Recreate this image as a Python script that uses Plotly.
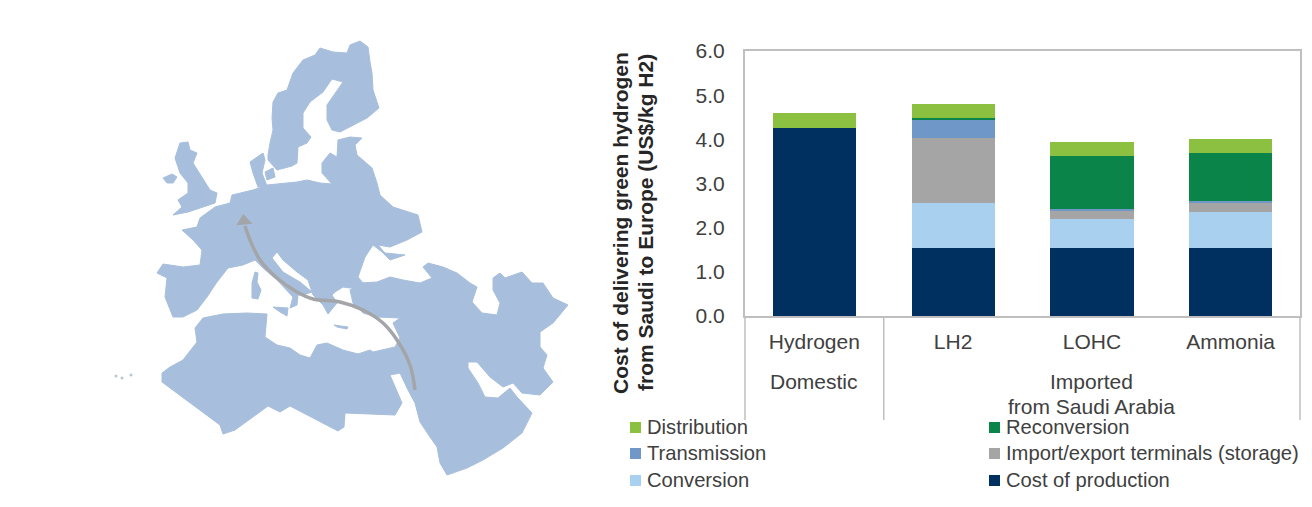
import plotly.graph_objects as go

# Stacked cost data (US$/kg H2)
categories = ["Hydrogen", "LH2", "LOHC", "Ammonia"]
cost_of_production = [4.25, 1.53, 1.53, 1.53]
conversion = [0.0, 1.02, 0.67, 0.83]
terminals = [0.0, 1.48, 0.17, 0.20]
transmission = [0.0, 0.42, 0.05, 0.05]
reconversion = [0.0, 0.03, 1.20, 1.07]
distribution = [0.35, 0.33, 0.33, 0.32]
y_ticks = [0, 1, 2, 3, 4, 5, 6]

# Map outlines in local map units (x right, y down)
scandinavia = [(268,155),(270,143),(273,130),(272,118),(273,102),(278,93),(287,90),(293,73),(303,60),(315,55),(320,48),(333,52),(347,53),(350,45),(360,41),(368,47),(370,62),(372,73),(373,90),(379,108),(367,118),(353,125),(340,132),(332,130),(327,120),(327,105),(335,93),(343,82),(332,79),(323,92),(310,102),(303,113),(303,128),(311,137),(307,143),(298,147),(297,163),(292,166),(277,170),(268,160)]
jutland = [(250,162),(263,153),(265,160),(262,173),(267,186),(258,187),(253,173)]
danish_islands = [(265,172),(273,168),(275,177),(267,180)]
britain = [(180,143),(188,142),(190,150),(197,153),(193,163),(202,177),(210,190),(217,193),(215,203),(203,207),(188,212),(173,215),(182,207),(178,200),(188,193),(188,183),(180,173),(175,158)]
ireland = [(163,178),(172,174),(177,177),(173,183),(167,183)]
europe = [(215,207),(230,203),(232,195),(253,190),(267,185),(280,184),(297,182),(307,180),(320,183),(332,184),(322,173),(322,163),(330,153),(337,157),(338,140),(350,137),(362,138),(355,145),(357,155),(372,168),(377,183),(380,195),(393,207),(418,215),(422,232),(407,240),(390,247),(378,245),(385,253),(405,255),(390,260),(382,252),(373,245),(365,257),(360,270),(358,277),(363,283),(355,287),(350,288),(343,287),(335,292),(332,295),(337,303),(328,314),(323,305),(313,295),(308,280),(297,272),(283,260),(277,252),(272,258),(283,272),(300,282),(312,292),(303,295),(298,295),(297,305),(290,308),(293,297),(277,280),(263,268),(255,260),(243,265),(228,268),(217,282),(207,297),(197,310),(183,317),(173,317),(168,305),(165,297),(167,278),(157,273),(163,264),(183,267),(200,265),(202,250),(193,240),(182,230),(197,227),(200,218)]
corsica_sardinia = [(255,272),(258,273),(257,282),(261,290),(258,299),(252,298),(252,283)]
sicily = [(273,307),(288,308),(287,316),(280,312)]
crete = [(334,325),(348,327),(347,329),(337,327)]
africa_middle_east = [(162,373),(170,367),(183,360),(197,342),(195,328),(203,318),(223,314),(247,313),(267,314),(265,337),(277,345),(290,348),(300,355),(310,358),(317,345),(327,343),(343,350),(358,354),(370,350),(373,352),(395,347),(400,338),(393,323),(400,318),(377,317),(363,313),(353,303),(350,290),(360,283),(377,282),(390,277),(403,280),(420,283),(432,278),(423,267),(428,263),(443,267),(457,273),(470,283),(477,287),(472,302),(482,313),(497,315),(500,303),(493,290),(493,278),(500,273),(505,278),(522,272),(532,283),(543,283),(553,298),(568,305),(562,312),(553,323),(540,332),(540,347),(547,355),(543,368),(553,382),(540,395),(522,393),(513,383),(503,387),(490,377),(477,362),(468,362),(468,368),(478,383),(485,397),(498,398),(510,388),(517,397),(532,413),(522,433),(503,448),(483,460),(467,468),(447,475),(440,463),(437,447),(430,437),(420,422),(415,403),(408,390),(400,373),(390,375),(402,403),(395,415),(345,413),(344,427),(338,431),(290,406),(280,412),(268,406),(235,430),(223,434),(220,425),(162,382)]
islands = [(116,376),(122,378),(131,375)]
route = [(415,390),(410,365),(397,340),(383,323),(363,310),(340,302),(313,299),(297,292),(277,278),(260,260),(250,240),(245,226)]
route_head = [(244,221)]

land_shapes = [scandinavia, jutland, danish_islands, britain, ireland, europe, corsica_sardinia,
               sicily, crete, africa_middle_east]

LAND = "#A7BFDC"
ROUTE = "#A3A5A8"
GREY_TEXT = "#404040"
AXIS_GREY = "#BFBFBF"
FONT = "Liberation Sans"

stack = [
    ("Cost of production", cost_of_production, "#00305F"),
    ("Conversion", conversion, "#A9D0EE"),
    ("Import/export terminals (storage)", terminals, "#A5A5A5"),
    ("Transmission", transmission, "#6F97C8"),
    ("Reconversion", reconversion, "#0A8449"),
    ("Distribution", distribution, "#8BC040"),
]
legend_rows = [
    ("Distribution", "#8BC040", 630, 427),
    ("Reconversion", "#0A8449", 989, 427),
    ("Transmission", "#6F97C8", 630, 453),
    ("Import/export terminals (storage)", "#A5A5A5", 989, 453),
    ("Conversion", "#A9D0EE", 630, 480),
    ("Cost of production", "#00305F", 989, 480),
]

W, H = 1312, 507
def px_x(x): return x / W
def px_y(y): return 1 - y / H

fig = go.Figure()

for name, values, color in stack:
    fig.add_trace(go.Bar(x=categories, y=values, name=name, marker_color=color,
                         marker_line_width=0, width=0.6, showlegend=False,
                         xaxis="x", yaxis="y"))

for outline in land_shapes:
    xs = [p[0] for p in outline] + [outline[0][0]]
    ys = [p[1] for p in outline] + [outline[0][1]]
    fig.add_trace(go.Scatter(x=xs, y=ys, mode="lines", fill="toself", fillcolor=LAND,
                             line=dict(color=LAND, width=1), showlegend=False,
                             hoverinfo="skip", xaxis="x2", yaxis="y2"))

fig.add_trace(go.Scatter(x=[p[0] for p in islands], y=[p[1] for p in islands], mode="markers",
                         marker=dict(color="#B9C6D6", size=3), showlegend=False,
                         hoverinfo="skip", xaxis="x2", yaxis="y2"))
fig.add_trace(go.Scatter(x=[p[0] for p in route], y=[p[1] for p in route], mode="lines",
                         line=dict(color=ROUTE, width=3.5, shape="spline"), showlegend=False,
                         hoverinfo="skip", xaxis="x2", yaxis="y2"))
fig.add_trace(go.Scatter(x=[p[0] for p in route_head], y=[p[1] for p in route_head], mode="markers",
                         marker=dict(symbol="triangle-up", color=ROUTE, size=14, angle=-6),
                         showlegend=False, hoverinfo="skip", xaxis="x2", yaxis="y2"))

shapes = [dict(type="line", xref="x", yref="paper", x0=0.5, x1=0.5,
               y0=px_y(316), y1=px_y(420), line=dict(color=AXIS_GREY, width=1.5))]
for edge in (745, 1300):
    shapes.append(dict(type="line", xref="paper", yref="paper", x0=px_x(edge), x1=px_x(edge),
                       y0=px_y(316), y1=px_y(420), line=dict(color=AXIS_GREY, width=1.5)))

def centred(x, y, text):
    return dict(xref="x", yref="paper", x=x, y=px_y(y), xanchor="center", yanchor="middle",
                text=text, showarrow=False, font=dict(family=FONT, size=21, color=GREY_TEXT))

annotations = [
    centred(0, 381, "Domestic"),
    centred(2, 381, "Imported"),
    centred(2, 406, "from Saudi Arabia"),
]
for line_x, line_text in ((620, "Cost of delivering green hydrogen"),
                          (645, "from Saudi to Europe (US$/kg H2)")):
    annotations.append(dict(xref="paper", yref="paper", x=px_x(line_x), y=px_y(223), textangle=-90,
                            xanchor="center", yanchor="middle", showarrow=False,
                            text=f"<b>{line_text}</b>",
                            font=dict(family=FONT, size=21, color="#262626")))
for label, color, left, mid in legend_rows:
    shapes.append(dict(type="rect", xref="paper", yref="paper", x0=px_x(left), x1=px_x(left + 11),
                       y0=px_y(mid + 6), y1=px_y(mid - 5), fillcolor=color, line_width=0))
    annotations.append(dict(xref="paper", yref="paper", x=px_x(left + 15), y=px_y(mid),
                            xanchor="left", yanchor="middle", text=label, showarrow=False,
                            font=dict(family=FONT, size=20.2, color=GREY_TEXT)))

fig.update_layout(
    width=W, height=H, barmode="stack", bargap=0.4,
    margin=dict(l=0, r=0, t=0, b=0),
    paper_bgcolor="white", plot_bgcolor="white",
    font=dict(family=FONT, color=GREY_TEXT),
    shapes=shapes, annotations=annotations,
    xaxis=dict(domain=[px_x(745), px_x(1300)], anchor="y", ticks="", ticklabelstandoff=6,
               automargin=False, showline=True, linecolor=AXIS_GREY, linewidth=2, mirror=True,
               tickfont=dict(family=FONT, size=21, color=GREY_TEXT)),
    yaxis=dict(domain=[px_y(316), px_y(51)], anchor="x", range=[0, 6], tickvals=y_ticks,
               tickformat=".1f", ticks="", ticklabelstandoff=14, showgrid=False, zeroline=False,
               automargin=False, showline=True, linecolor=AXIS_GREY, linewidth=2, mirror=True,
               tickfont=dict(family=FONT, size=21, color=GREY_TEXT)),
    xaxis2=dict(domain=[px_x(100), px_x(580)], range=[100, 580], anchor="y2", visible=False,
                automargin=False),
    yaxis2=dict(domain=[px_y(490), px_y(20)], range=[490, 20], anchor="x2", visible=False,
                automargin=False),
)

fig.write_html("out.html", config=dict(displayModeBar=False))
